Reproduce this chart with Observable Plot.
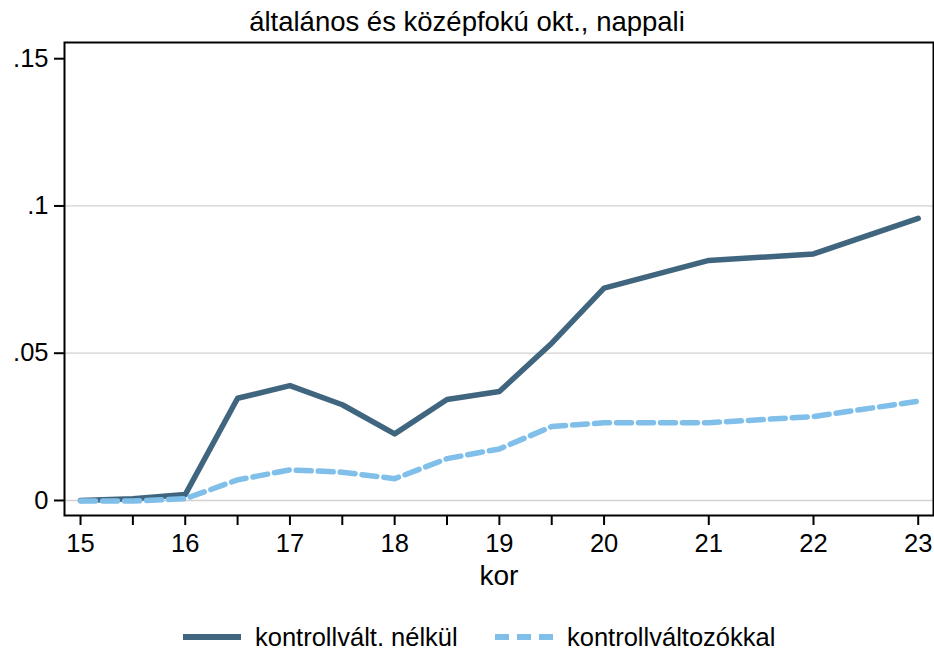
<!DOCTYPE html>
<html>
<head>
<meta charset="utf-8">
<script src="https://cdn.jsdelivr.net/npm/d3@7"></script>
<script src="https://cdn.jsdelivr.net/npm/@observablehq/plot@0.6"></script>
<style>
  html, body { margin: 0; padding: 0; background: #fff; }
  body { width: 934px; height: 653px; position: relative; overflow: hidden;
         font-family: "Liberation Sans", Arial, sans-serif; color: #000; }
  #title { position: absolute; left: 0; top: 0; width: 934px; height: 42px;
           text-align: center; font-size: 27.5px; line-height: 44px; }
  #chart { position: absolute; left: 0; top: 36px; }
  #legend { position: absolute; left: 0; top: 622px; width: 934px; height: 30px; }
  .item { position: absolute; top: 0; height: 30px; display: flex; align-items: center;
          font-size: 25.5px; white-space: nowrap; }
  .item svg { margin-right: 14px; }
</style>
</head>
<body>
<div id="title"></div>
<div id="chart"></div>
<div id="legend"></div>
<script>
// ---- data ----
const chartTitle = "általános és középfokú okt., nappali";
const xTitle = "kor";
const ages = [15, 15.5, 16, 16.5, 17, 17.5, 18, 18.5, 19, 19.5, 20, 21, 22, 23];
const withoutControls = [0.0000, 0.0006, 0.0020, 0.0347, 0.0390, 0.0325, 0.0226, 0.0343, 0.0370, 0.0534, 0.0721, 0.0815, 0.0837, 0.0958];
const withControls = [-0.0002, -0.0002, 0.0006, 0.0070, 0.0104, 0.0096, 0.0074, 0.0142, 0.0175, 0.0251, 0.0264, 0.0264, 0.0285, 0.0337];
const seriesNames = ["kontrollvált. nélkül", "kontrollváltozókkal"];
const seriesColors = ["#40657f", "#80bfe9"];
const xLabelTicks = [15, 16, 17, 18, 19, 20, 21, 22, 23];
const yTicks = [0, 0.05, 0.1, 0.15];
const yTickLabels = ["0", ".05", ".1", ".15"];
const yGrid = [0, 0.05, 0.1];

const rows1 = ages.map((a, i) => ({x: a, y: withoutControls[i]}));
const rows2 = ages.map((a, i) => ({x: a, y: withControls[i]}));

document.getElementById("title").textContent = chartTitle;

const chart = Plot.plot({
  width: 934,
  height: 564,
  marginLeft: 64,
  marginRight: 1,
  marginTop: 6,
  marginBottom: 85,
  style: { fontFamily: "'Liberation Sans', Arial, sans-serif", fontSize: "25.5px", color: "#000", background: "#fff" },
  x: { domain: [14.847, 23.146] },
  y: { domain: [-0.0051, 0.1555] },
  marks: [
    Plot.gridY(yGrid, { stroke: "#d2d2d2", strokeOpacity: 1, strokeWidth: 1.3 }),
    Plot.line(rows1, { x: "x", y: "y", stroke: seriesColors[0], strokeWidth: 5.5, strokeLinejoin: "round", strokeLinecap: "round" }),
    Plot.line(rows2, { x: "x", y: "y", stroke: seriesColors[1], strokeWidth: 5.5, strokeDasharray: "15,7", strokeLinejoin: "round" }),
    Plot.frame({ stroke: "#000", strokeWidth: 2 }),
    Plot.axisY({ ticks: yTicks, tickFormat: d => yTickLabels[yTicks.indexOf(d)], tickSize: 10, tickPadding: 6, strokeWidth: 2, fontSize: 25.5, label: null }),
    Plot.axisX({ ticks: ages, tickFormat: d => xLabelTicks.includes(d) ? String(d) : "", tickSize: 10, tickPadding: 8, strokeWidth: 2, fontSize: 25.5, label: null }),
    Plot.text([xTitle], { frameAnchor: "bottom", dy: 69, fontSize: 28, text: d => d })
  ]
});
document.getElementById("chart").appendChild(chart);

// ---- legend ----
const legend = document.getElementById("legend");
const legendX = [183, 495];
seriesNames.forEach((name, i) => {
  const item = document.createElement("div");
  item.className = "item";
  item.style.left = legendX[i] + "px";
  const dash = i === 1 ? 'stroke-dasharray="14,8"' : "";
  item.innerHTML = `<svg width="58" height="10"><line x1="0" y1="5" x2="58" y2="5" stroke="${seriesColors[i]}" stroke-width="6" ${dash}/></svg><span>${name}</span>`;
  legend.appendChild(item);
});
</script>
</body>
</html>
